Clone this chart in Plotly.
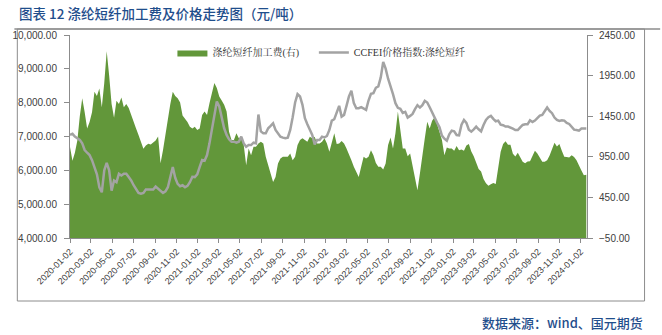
import pandas as pd
import plotly.graph_objects as go

# ---------------- data (weekly samples) ----------------
start_date = "2020-01-02"

fee = [  # 涤纶短纤加工费 (right axis)
    1070, 900, 1000, 1150, 1450, 1670, 1500, 1300, 1380, 1500,
    1750, 1700, 1790, 1560, 1860, 2250, 1950, 1600, 1430, 1640,
    1600, 1680, 1560, 1600, 1550, 1460, 1380, 1300, 1220, 1140,
    1050, 1090, 1110, 1100, 1120, 1150, 1200, 870, 1030, 1230,
    1420, 1600, 1750, 1700, 1670, 1620, 1460, 1420, 1380, 1320,
    1300, 1320, 1280, 1300,
    1466, 1507, 1466, 1610, 1755, 1858,
    1796, 1693, 1643, 1590, 1507, 1259, 1156, 1156, 1239, 1177,
    1197, 1094, 847, 1053, 970, 1074, 1074, 1115, 1135, 1115,
    950, 847, 723, 640, 702, 867, 929, 950, 950, 950,
    991, 908, 950, 1094, 1156, 1177, 1156, 1135, 1197, 1177,
    1197, 1115, 1115, 1135, 1177, 1115, 1012,
    1135, 1239, 1107, 1115, 1144, 1115, 1053, 991, 908, 826,
    764, 702, 826, 950, 929, 950, 1032, 970, 875, 826,
    826, 793, 867, 1094, 1189, 1053, 1239, 1507, 1280, 1053,
    1053, 958, 991, 847, 681, 537, 743, 991, 1177, 1383,
    1300, 1395, 1437, 1354, 1259, 1156, 970, 1065, 1053, 1053,
    1024, 1082, 1032,
    1040,
    1024, 1090, 1107, 1016, 958, 875, 801, 768, 677, 624,
    595, 611, 628, 615, 805, 1012, 1107, 1140, 1098, 1098,
    987, 954, 999, 937, 888, 871, 892, 896, 958, 1024,
    991, 933, 888, 888, 908, 966, 1041, 1123, 1078, 1107,
    1024, 950, 946, 942, 970, 946, 908, 834, 780, 723, 730,
]

price = [  # CCFEI价格指数:涤纶短纤 (left axis)
    7050, 7080, 7000, 6960, 6900, 6800, 6600, 6520, 6450, 6300,
    6100, 5880, 5500, 5350, 6000, 6220, 6000, 5400, 5700, 5650,
    5900, 5850, 5900, 5900, 5800, 5700, 5560, 5460, 5330, 5310,
    5330, 5430, 5430, 5430, 5430, 5520, 5460, 5400, 5330, 5380,
    5500, 5800, 6100, 5780, 5600, 5530, 5560, 5500, 5540, 5650,
    5810, 5800, 5880, 6100,
    6302, 6282, 6451, 6797, 7193, 7569,
    8035, 7886, 7569, 7243, 7045, 6916, 6847, 6847, 6817, 6847,
    6995, 6797, 6698, 6748, 6748, 6817, 6797, 7650, 7150, 7094,
    7094, 7243, 7312, 7391, 7193, 7094, 6995, 6965, 6946, 6965,
    7193, 7569, 8005, 8252, 8183, 7936, 7540, 7361, 7213, 7045,
    6767, 6896, 6896, 6995, 6975, 7015, 7193,
    7470, 7510, 7708, 7906, 7589, 7639, 7906, 8183, 8350, 7985,
    7837, 7837, 7866, 7817, 7787, 8064, 8262, 8282, 8440, 8480,
    8747, 9203, 9005, 8708, 8500, 8252, 7985, 7846, 7817, 7698,
    7728, 7559, 7609, 7668, 7807, 7926, 7856, 7926, 8054, 8005,
    7866, 7708, 7530, 7411, 7272, 7025, 6936, 6876, 7064, 7173,
    7153, 7045, 7035,
    7350,
    7490, 7401, 7203, 7144, 7213, 7292, 7213, 7153, 7342, 7490,
    7569, 7609, 7520, 7450, 7470, 7351, 7332, 7292, 7292, 7272,
    7233, 7193, 7193, 7272, 7342, 7361, 7361, 7480, 7431, 7470,
    7540, 7619, 7639, 7757, 7856, 7757, 7688, 7560, 7490, 7461,
    7480, 7470, 7401, 7371, 7282, 7203, 7193, 7173, 7233, 7243, 7233,
]

dates = pd.date_range(start_date, periods=len(fee), freq="7D")

tick_dates = [d + pd.Timedelta(days=1) for d in pd.date_range("2020-01-01", "2024-01-01", freq="2MS")]
tick_labels = [d.strftime("%Y-%m-%d") for d in tick_dates]

left_range = [4000, 10000]
right_range = [-50, 2450]

series_names = ["涤纶短纤加工费(右)", "CCFEI价格指数:涤纶短纤"]
title_text = "图表 12 涤纶短纤加工费及价格走势图（元/吨）"
source_text = "数据来源：wind、国元期货"

# ---------------- layout geometry ----------------
W, H = 662, 335
PL, PR, PT, PB = 57, 587, 35, 238  # plot area in pixels


def px(x):
    return (x - PL) / (PR - PL)


def py(y):
    return 1 - (y - PT) / (PB - PT)


GREEN = "#62973a"
GREY_LINE = "#a3a3a3"
AXIS = "#8c8c8c"
TXT = "#404040"
BLUE = "#1f4e8c"

fig = go.Figure()
fig.add_trace(go.Scatter(x=dates, y=[right_range[0]] * len(dates), yaxis="y",
                         mode="lines", line=dict(width=0), showlegend=False,
                         hoverinfo="skip"))
fig.add_trace(go.Scatter(x=dates, y=fee, yaxis="y", mode="lines",
                         fill="tonexty", fillcolor=GREEN, legend="legend",
                         line=dict(width=0, color=GREEN), name=series_names[0]))
fig.add_trace(go.Scatter(x=dates, y=price, yaxis="y2", mode="lines", legend="legend2",
                         line=dict(width=2.5, color=GREY_LINE), name=series_names[1]))

tickfont = dict(family="Liberation Sans, Arial", size=10, color=TXT)
xtickfont = dict(family="Liberation Sans, Arial", size=9, color=TXT)
legend_font = dict(family="Liberation Serif, Noto Serif CJK SC, Noto Sans CJK SC", size=10, color="#333")
legend_common = dict(orientation="h", xanchor="left", yanchor="top", y=py(38),
                     font=legend_font, bgcolor="rgba(0,0,0,0)", itemwidth=30)

fig.update_layout(
    width=W, height=H, autosize=False,
    margin=dict(l=PL, r=W - PR, t=PT, b=H - PB, pad=0),
    paper_bgcolor="white", plot_bgcolor="white",
    showlegend=True,
    legend=dict(x=px(162), **legend_common),
    legend2=dict(x=px(307), **legend_common),
    xaxis=dict(type="date", range=[dates[0], pd.Timestamp("2024-01-20")],
               tickmode="array", tickvals=tick_dates, ticktext=tick_labels,
               tickangle=-45, ticks="outside", ticklen=4, tickcolor=AXIS,
               showline=True, linecolor=AXIS, linewidth=1, showgrid=False,
               zeroline=False, tickfont=xtickfont),
    yaxis=dict(side="right", range=right_range, tickmode="linear", tick0=right_range[0],
               dtick=500, tickformat=".2f", ticks="outside", ticklen=5, tickcolor=AXIS,
               showline=True, linecolor=AXIS, linewidth=1, showgrid=False,
               zeroline=False, tickfont=tickfont, ticklabelstandoff=4),
    yaxis2=dict(side="left", overlaying="y", range=left_range, tickmode="linear",
                tick0=left_range[0], dtick=1000, tickformat=",.2f", ticks="outside",
                ticklen=5, tickcolor=AXIS, showline=True, linecolor=AXIS, linewidth=1,
                showgrid=False, zeroline=False, tickfont=tickfont, ticklabelstandoff=5),
    shapes=[
        dict(type="rect", xref="paper", yref="paper",
             x0=px(3), x1=px(646), y0=py(301), y1=py(29),
             line=dict(color="#8c8c8c", width=1), fillcolor="rgba(0,0,0,0)", layer="below"),
        dict(type="line", xref="paper", yref="paper",
             x0=px(0), x1=px(W), y0=py(29), y1=py(29),
             line=dict(color="#8c8c8c", width=1.5)),
    ],
    annotations=[
        dict(text=title_text, xref="paper", yref="paper", x=px(3), y=py(13),
             xanchor="left", yanchor="middle", showarrow=False,
             font=dict(family="Noto Sans CJK SC", size=13.5, color=BLUE, weight=500)),
        dict(text=source_text, xref="paper", yref="paper", x=px(646), y=py(322),
             xanchor="right", yanchor="middle", showarrow=False,
             font=dict(family="Noto Sans CJK SC", size=13, color=BLUE, weight=500)),
    ],
)

fig.write_html("out.html")
